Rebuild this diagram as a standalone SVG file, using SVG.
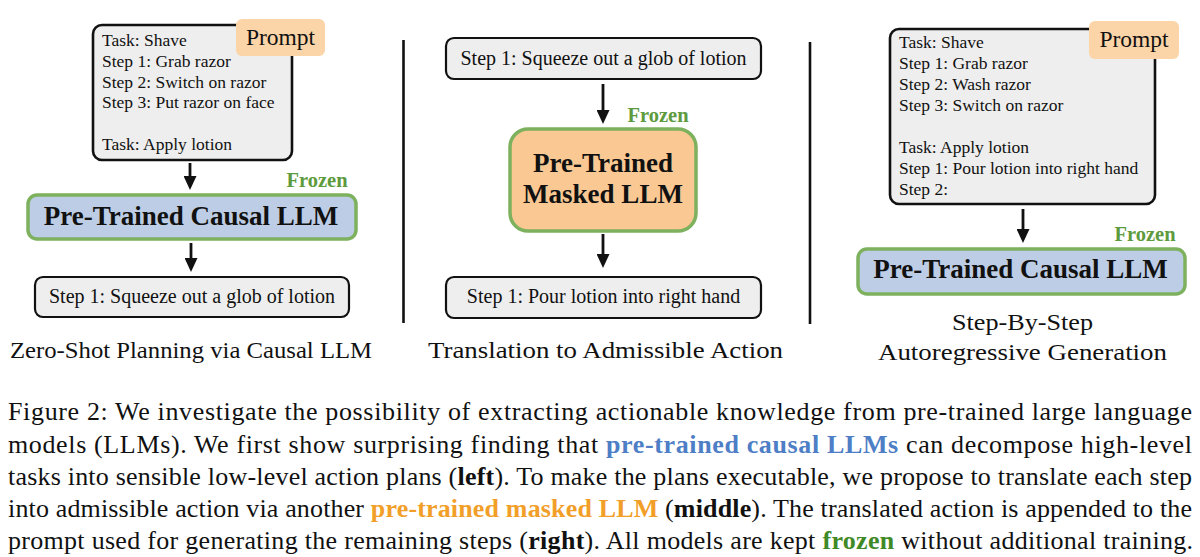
<svg xmlns="http://www.w3.org/2000/svg" width="1200" height="557" viewBox="0 0 1200 557">
<style>
.t{font-family:"Liberation Serif","Times New Roman",serif;fill:#111}
.ln{font-size:17.5px}
.box{fill:#eeeeee;stroke:#111;stroke-width:2.2}
.pbox{fill:#eeeeee;stroke:#111;stroke-width:2.6}
.tag{fill:#fbd4a8}
.tagt{font-size:23.5px}
.out{font-size:20px}
.llm{stroke:#7db15e;stroke-width:3.5}
.big{font-size:27px;font-weight:bold}
.frz{font-size:20.5px;font-weight:bold;fill:#5e9a3e}
.cap{font-size:23px}
.fig{font-size:26px}
.b{font-weight:bold}
.blue{fill:#4d7ec6;font-weight:bold}
.orange{fill:#f29f2a;font-weight:bold}
.green{fill:#3f8a27;font-weight:bold}
.arr{stroke:#111;stroke-width:2.8;fill:none}
.div{stroke:#111;stroke-width:2.6}
</style>
<defs>
<marker id="ah" markerUnits="userSpaceOnUse" markerWidth="15" markerHeight="13" viewBox="0 0 15 13" refX="4" refY="6.5" orient="auto">
<path d="M0,0 L14,6.5 L0,13 Z" fill="#111"/>
</marker>
</defs>
<rect width="1200" height="557" fill="#ffffff"/>

<g id="connectors">
<line class="arr" x1="190" y1="163" x2="190" y2="180" marker-end="url(#ah)"/>
<line class="arr" x1="191" y1="243" x2="191" y2="262" marker-end="url(#ah)"/>
<line class="arr" x1="603" y1="84" x2="603" y2="114" marker-end="url(#ah)"/>
<line class="arr" x1="603" y1="234" x2="603" y2="258" marker-end="url(#ah)"/>
<line class="arr" x1="1023" y1="209" x2="1023" y2="233" marker-end="url(#ah)"/>
</g>

<g id="dividers">
<line class="div" x1="403.5" y1="40" x2="403.5" y2="323"/>
<line class="div" x1="810" y1="42" x2="810" y2="324"/>
</g>

<g id="left-prompt">
<rect class="pbox" x="93" y="25" width="199" height="135" rx="9"/>
<text class="t ln" x="102" y="46">Task: Shave</text>
<text class="t ln" x="102" y="67">Step 1: Grab razor</text>
<text class="t ln" x="102" y="87.5">Step 2: Switch on razor</text>
<text class="t ln" x="102" y="108">Step 3: Put razor on face</text>
<text class="t ln" x="102" y="150">Task: Apply lotion</text>
</g>
<g id="left-prompt-tag">
<rect class="tag" x="236" y="19" width="89" height="37" rx="6"/>
<text class="t tagt" x="280.5" y="45" text-anchor="middle">Prompt</text>
</g>
<g id="left-frozen">
<text class="t frz" x="317" y="187" text-anchor="middle">Frozen</text>
</g>
<g id="left-llm">
<rect class="llm" x="28" y="195" width="328" height="44" rx="9" fill="#bccde5"/>
<text class="t big" x="191" y="225" text-anchor="middle">Pre-Trained Causal LLM</text>
</g>
<g id="left-output">
<rect class="box" x="35" y="277" width="314" height="40" rx="8"/>
<text class="t out" x="192" y="303" text-anchor="middle">Step 1: Squeeze out a glob of lotion</text>
</g>
<g id="left-caption">
<text class="t cap" x="10" y="358" textLength="362" lengthAdjust="spacingAndGlyphs">Zero-Shot Planning via Causal LLM</text>
</g>

<g id="mid-input">
<rect class="box" x="446" y="38" width="315" height="41" rx="8"/>
<text class="t out" x="603.5" y="65" text-anchor="middle">Step 1: Squeeze out a glob of lotion</text>
</g>
<g id="mid-frozen">
<text class="t frz" x="658" y="122" text-anchor="middle">Frozen</text>
</g>
<g id="mid-llm">
<rect class="llm" x="510" y="129" width="186" height="102" rx="18" fill="#f9c893"/>
<text class="t big" x="603" y="172" text-anchor="middle">Pre-Trained</text>
<text class="t big" x="603" y="203" text-anchor="middle">Masked LLM</text>
</g>
<g id="mid-output">
<rect class="box" x="446" y="277" width="315" height="41" rx="8"/>
<text class="t out" x="603.5" y="303" text-anchor="middle">Step 1: Pour lotion into right hand</text>
</g>
<g id="mid-caption">
<text class="t cap" x="428" y="358" textLength="355" lengthAdjust="spacingAndGlyphs">Translation to Admissible Action</text>
</g>

<g id="right-prompt">
<rect class="pbox" x="890" y="29" width="265" height="175" rx="9"/>
<text class="t ln" x="899" y="48">Task: Shave</text>
<text class="t ln" x="899" y="69">Step 1: Grab razor</text>
<text class="t ln" x="899" y="90">Step 2: Wash razor</text>
<text class="t ln" x="899" y="111">Step 3: Switch on razor</text>
<text class="t ln" x="899" y="153">Task: Apply lotion</text>
<text class="t ln" x="899" y="174">Step 1: Pour lotion into right hand</text>
<text class="t ln" x="899" y="195">Step 2:</text>
</g>
<g id="right-prompt-tag">
<rect class="tag" x="1089" y="21" width="90" height="38" rx="6"/>
<text class="t tagt" x="1134" y="47" text-anchor="middle">Prompt</text>
</g>
<g id="right-frozen">
<text class="t frz" x="1145" y="241" text-anchor="middle">Frozen</text>
</g>
<g id="right-llm">
<rect class="llm" x="858" y="249" width="327" height="45" rx="9" fill="#bccde5"/>
<text class="t big" x="1020.5" y="278" text-anchor="middle">Pre-Trained Causal LLM</text>
</g>
<g id="right-caption">
<text class="t cap" x="952" y="330" textLength="141" lengthAdjust="spacingAndGlyphs">Step-By-Step</text>
<text class="t cap" x="878" y="360" textLength="289" lengthAdjust="spacingAndGlyphs">Autoregressive Generation</text>
</g>

<g id="figure-caption">
<text class="t fig" x="8" y="420" textLength="1184" lengthAdjust="spacing">Figure 2: We investigate the possibility of extracting actionable knowledge from pre-trained large language</text>
<text class="t fig" x="8" y="452.5" textLength="1184" lengthAdjust="spacing">models (LLMs). We first show surprising finding that <tspan class="blue">pre-trained causal LLMs</tspan> can decompose high-level</text>
<text class="t fig" x="8" y="485" textLength="1184" lengthAdjust="spacing">tasks into sensible low-level action plans (<tspan class="b">left</tspan>). To make the plans executable, we propose to translate each step</text>
<text class="t fig" x="8" y="517" textLength="1184" lengthAdjust="spacing">into admissible action via another <tspan class="orange">pre-trained masked LLM</tspan> (<tspan class="b">middle</tspan>). The translated action is appended to the</text>
<text class="t fig" x="8" y="549" textLength="1185" lengthAdjust="spacing">prompt used for generating the remaining steps (<tspan class="b">right</tspan>). All models are kept <tspan class="green">frozen</tspan> without additional training.</text>
</g>
</svg>
